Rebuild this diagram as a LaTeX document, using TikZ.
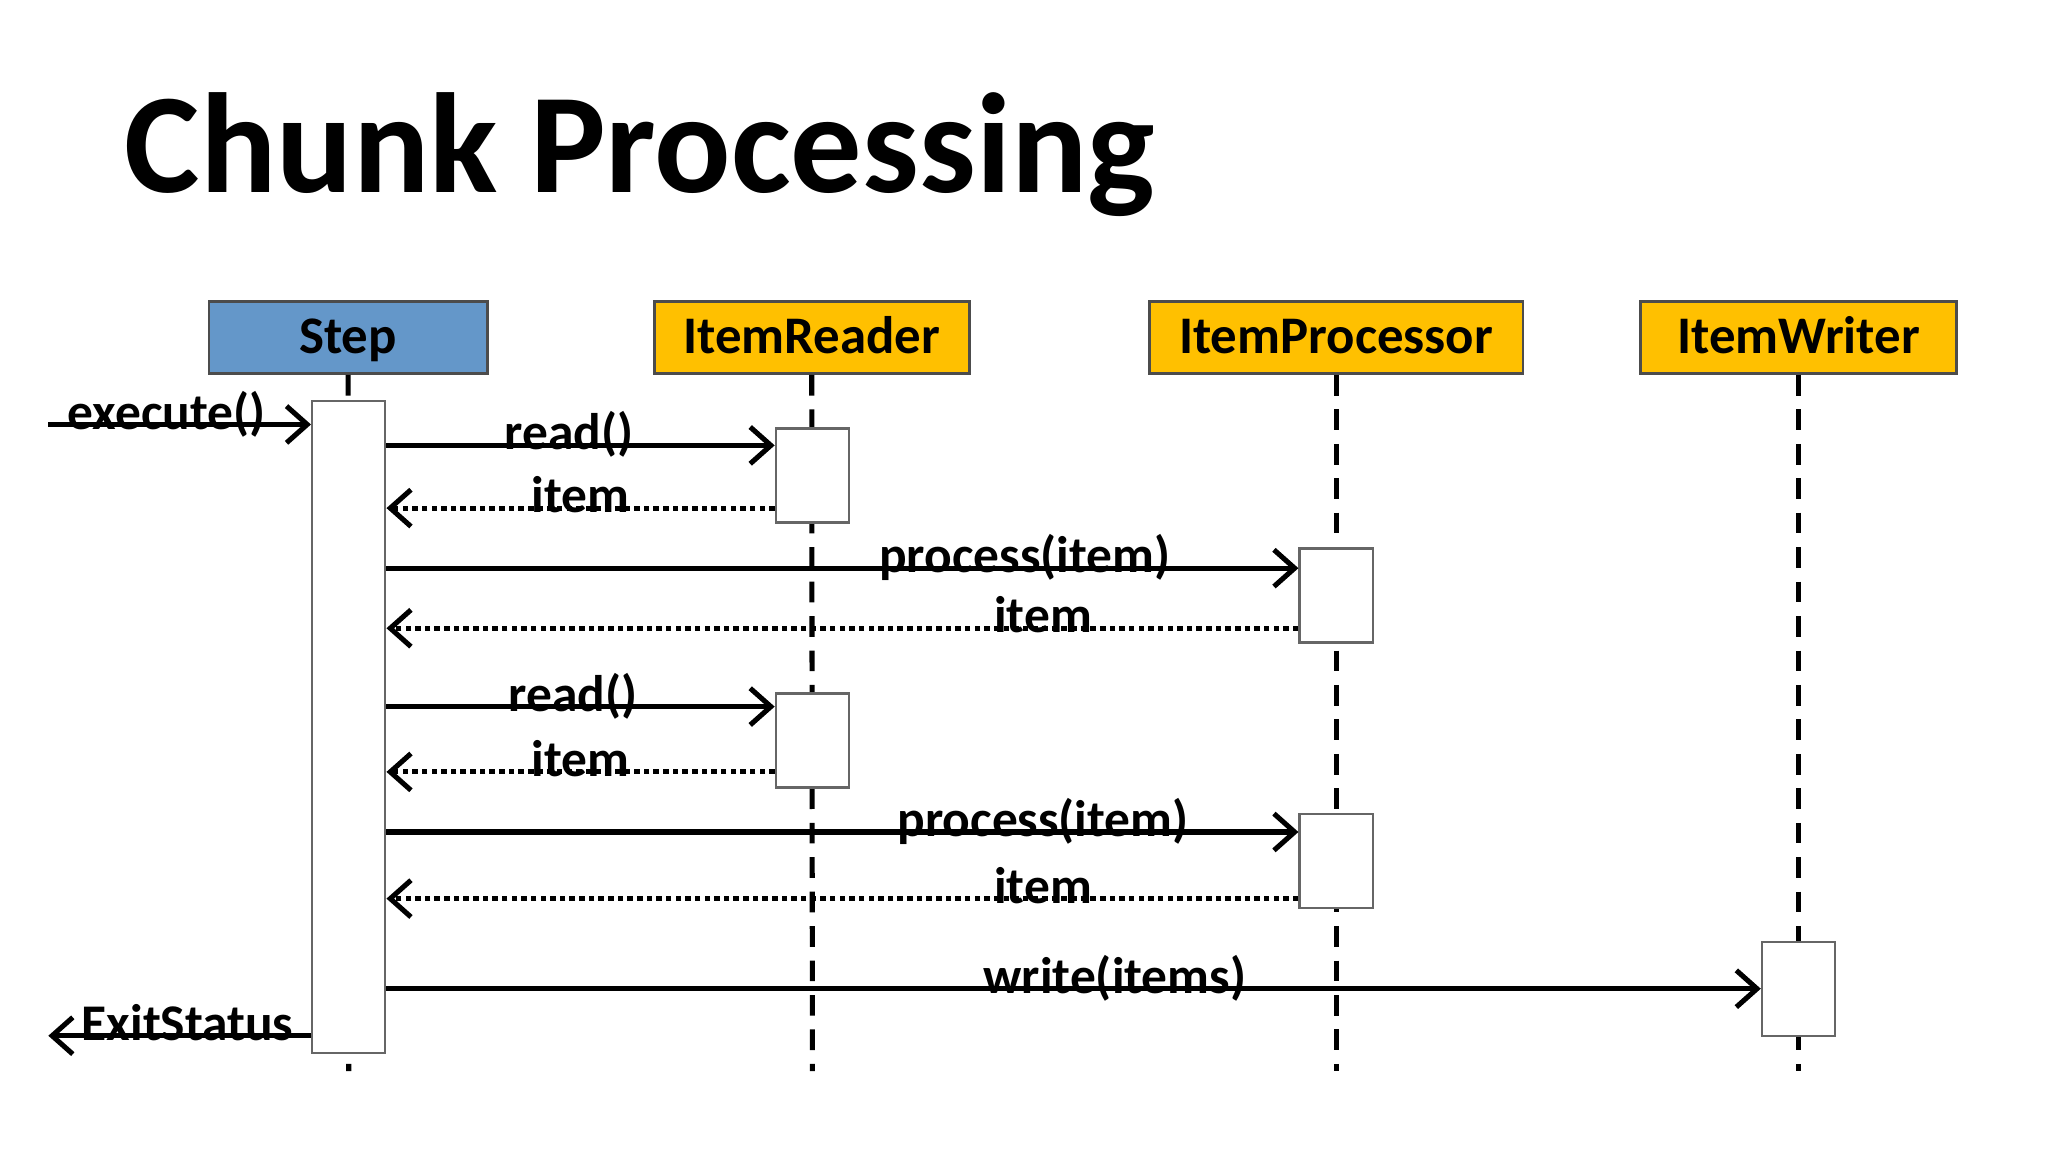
\documentclass[tikz,border=0pt]{standalone}
\usepackage{fontspec}
\setmainfont{Carlito}
\usetikzlibrary{arrows.meta}
\definecolor{stepblue}{HTML}{6497C9}
\definecolor{gold}{HTML}{FFC000}
\begin{document}
\begin{tikzpicture}[x=0.01cm,y=-0.01cm,
 head/.style={draw=black!70,line width=0.6pt,minimum height=0.55cm,font=\fontsize{11.5}{13}\selectfont\bfseries,inner sep=0pt,text depth=0pt,text height=7pt},
 act/.style={draw=black!60,fill=white,line width=0.5pt,minimum width=0.56cm,inner sep=0pt},
 life/.style={line width=1.1pt,dash pattern=on 4.5pt off 3pt},
 msg/.style={line width=1.1pt,-{Straight Barb[length=4.5pt,width=8pt,line width=1.1pt]}},
 ret/.style={msg,dash pattern=on 1.2pt off 0.9pt},
 lab/.style={font=\fontsize{11.2}{13}\selectfont\bfseries,anchor=base,inner sep=0pt,yshift=-1pt}]
\useasboundingbox (0,0) rectangle (1568,882);
\node[anchor=west,font=\fontsize{31}{36}\selectfont\bfseries,inner sep=0pt] (title) at (95,118) {Chunk Processing};
\node[head,fill=stepblue,minimum width=2.13cm] (step) at (266.5,258.5) {Step};
\node[head,fill=gold,minimum width=2.41cm] (reader) at (621.5,258.5) {ItemReader};
\node[head,fill=gold,minimum width=2.86cm] (proc) at (1023,258.5) {ItemProcessor};
\node[head,fill=gold,minimum width=2.42cm] (writer) at (1377,258.5) {ItemWriter};
\coordinate (se) at (267,820); \coordinate (re) at (622,820);
\coordinate (pe) at (1023,820); \coordinate (we) at (1377,820);
\draw[life] (step.south) -- (se);
\draw[life] (reader.south) -- (re);
\draw[life] (proc.south) -- (pe);
\draw[life] (writer.south) -- (we);
\node[act,minimum height=4.99cm] (sa) at (267,556.5) {};
\node[act,minimum height=0.72cm] (r1) at (622,364) {};
\node[act,minimum height=0.72cm] (r2) at (622,567) {};
\node[act,minimum height=0.72cm] (p1) at (1023,456) {};
\node[act,minimum height=0.72cm] (p2) at (1023,659) {};
\node[act,minimum height=0.72cm] (w1) at (1377,757) {};
\coordinate (in) at (37,325); \coordinate (out) at (37,793);
\draw[msg] (in) -- (sa.west |- in) node[lab,pos=0.45] {execute()};
\draw[msg] (sa.east |- 0,341) -- (r1.west |- 0,341) node[lab,pos=0.47] {read()};
\draw[ret] (r1.west |- 0,389) -- (sa.east |- 0,389) node[lab,pos=0.5] {item};
\draw[msg] (sa.east |- 0,435) -- (p1.west |- 0,435) node[lab,pos=0.7] {process(item)};
\draw[ret] (p1.west |- 0,481) -- (sa.east |- 0,481) node[lab,pos=0.28] {item};
\draw[msg] (sa.east |- 0,541) -- (r2.west |- 0,541) node[lab,pos=0.48] {read()};
\draw[ret] (r2.west |- 0,591) -- (sa.east |- 0,591) node[lab,pos=0.5] {item};
\draw[msg] (sa.east |- 0,637) -- (p2.west |- 0,637) node[lab,pos=0.72] {process(item)};
\draw[ret] (p2.west |- 0,688) -- (sa.east |- 0,688) node[lab,pos=0.28] {item};
\draw[msg] (sa.east |- 0,757) -- (w1.west |- 0,757) node[lab,pos=0.53] {write(items)};
\draw[msg] (sa.west |- out) -- (out) node[lab,pos=0.47] {ExitStatus};
\end{tikzpicture}
\end{document}
